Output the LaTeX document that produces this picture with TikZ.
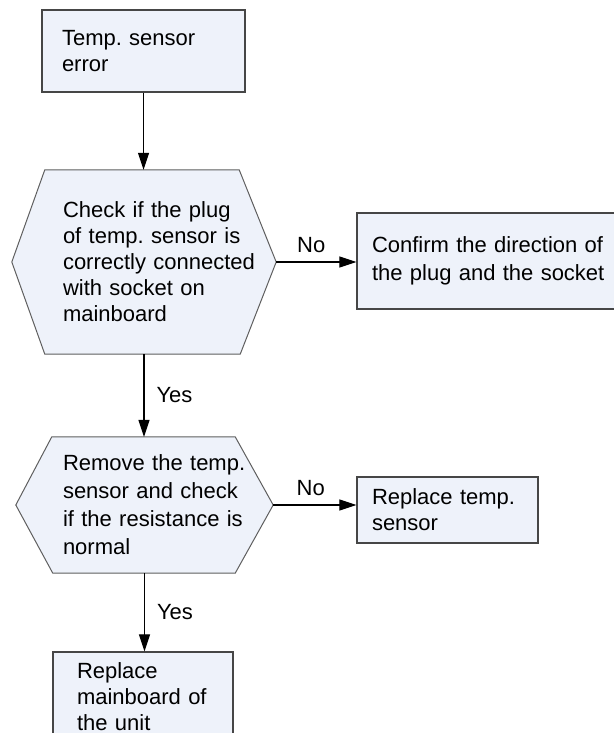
\documentclass[tikz,border=0pt]{standalone}
\usepackage{fontspec}
\setmainfont{Liberation Sans}
\usetikzlibrary{arrows.meta,positioning}
\definecolor{boxfill}{RGB}{238,242,250}
\definecolor{boxline}{RGB}{70,70,70}
\definecolor{hexline}{RGB}{95,95,95}
\frenchspacing
\tikzset{
	flowtext/.style={font=\fontsize{22pt}{26pt}\selectfont},
	stepbox/.style={flowtext, rectangle, draw=boxline, fill=boxfill, line width=1.2pt, align=left, inner ysep=0pt},
	hexframe/.style={rectangle, draw=none, inner sep=0pt},
	hexpath/.style={draw=hexline, fill=boxfill, line width=1pt},
	hextext/.style={flowtext, align=left, inner sep=0pt, text width=200pt},
	flow/.style={-{Triangle[length=17pt,width=11pt]}, line width=1.1pt},
	answer/.style={flowtext, inner sep=0pt}
}
\begin{document}
\begin{tikzpicture}[x=1pt,y=-1pt]
		\useasboundingbox (0,0) rectangle (613,733);
		% Fehler
		\node[stepbox, text width=163pt, inner xsep=20pt, minimum height=82pt] (start) at (143.5,51) {Temp. sensor\\error};
		% erste Pruefung (Stecker)
		\node[hexframe, minimum width=264pt, minimum height=184pt] (chk) at (144,262) {};
		\draw[hexpath] ([xshift=33pt]chk.north west) -- ([xshift=-37pt]chk.north east) -- (chk.east)
			-- ([xshift=-36pt]chk.south east) -- ([xshift=33pt]chk.south west) -- (chk.west) -- cycle;
		\node[hextext, right=51pt of chk.west] (chktext) {Check if the plug\\of temp. sensor is\\correctly connected\\with socket on\\mainboard};
		% Richtung pruefen
		\node[stepbox, text width=233pt, inner xsep=15pt, minimum height=96pt, font=\fontsize{22pt}{28pt}\selectfont] (dir) at (488.5,261) {Confirm the direction of\\the plug and the socket};
		% zweite Pruefung (Widerstand)
		\node[hexframe, minimum width=257pt, minimum height=136pt] (res) at (144.5,505) {};
		\draw[hexpath] ([xshift=36pt]res.north west) -- ([xshift=-38pt]res.north east) -- (res.east)
			-- ([xshift=-38pt]res.south east) -- ([xshift=37pt]res.south west) -- (res.west) -- cycle;
		\node[hextext, right=47pt of res.west, font=\fontsize{22pt}{28pt}\selectfont] (restext) {Remove the temp.\\sensor and check\\if the resistance is\\normal};
		% Sensor tauschen
		\node[stepbox, text width=151pt, inner xsep=15pt, minimum height=66pt] (rep) at (447.5,510) {Replace temp.\\sensor};
		% Hauptplatine tauschen
		\node[stepbox, text width=132pt, inner xsep=24pt, minimum height=90pt] (mb) at (143,697) {Replace\\mainboard of\\the unit};
		% Pfeile
		\draw[flow] (start.south) -- (start.south |- chk.north);
		\draw[flow] (chk.south) -- node[answer, right=12pt] (yes1) {Yes} (chk.south |- res.north);
		\draw[flow] (res.south) -- node[answer, right=12pt] (yes2) {Yes} (res.south |- mb.north);
		\draw[flow] (chk.east) -- node[answer, above=9pt, xshift=-5pt] (no1) {No} (chk.east -| dir.west);
		\draw[flow] (res.east) -- node[answer, above=9pt, xshift=-4pt] (no2) {No} (res.east -| rep.west);
	\end{tikzpicture}
\end{document}
